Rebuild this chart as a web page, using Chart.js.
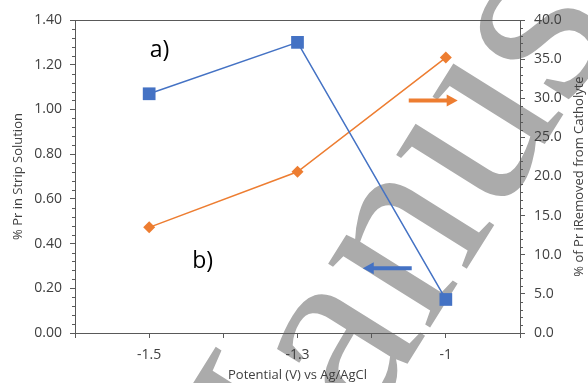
<!DOCTYPE html>
<html>
<head>
<meta charset="utf-8">
<script src="https://cdn.jsdelivr.net/npm/chart.js@4.4.1/dist/chart.umd.min.js"></script>
<style>
  html, body { margin: 0; padding: 0; background: #fff; }
  #wrap { width: 588px; height: 383px; }
</style>
</head>
<body>
<div id="wrap"><canvas id="potentialChart"></canvas></div>
<script>
// data
const potentials = ['-1.5', '-1.3', '-1'];
const prStrip = [1.07, 1.30, 0.15];      // left axis, blue squares
const prRemoved = [13.5, 20.6, 35.2];    // right axis, orange diamonds
const leftTicks = [0, 0.2, 0.4, 0.6, 0.8, 1.0, 1.2, 1.4];
const rightTicks = [0, 5, 10, 15, 20, 25, 30, 35, 40];

const blue = '#4472C4';
const orange = '#ED7D31';
const axisGrey = '#595959';

Chart.defaults.font.family = '"Open Sans", sans-serif';
Chart.defaults.font.size = 13;
Chart.defaults.color = '#404040';

// minor ticks, plot frame, right title, labels and arrows
const decorations = {
  id: 'decorations',
  beforeDraw(chart) {
    const ctx = chart.ctx;
    // faint "Manuscript" watermark behind everything
    const size = 262;
    ctx.save();
    ctx.fillStyle = '#ababab';
    ctx.font = size + 'px "Liberation Serif"';
    ctx.translate(345, 350);
    ctx.rotate(-58 * Math.PI / 180);
    const pre = ctx.measureText('M').width;
    const aw = ctx.measureText('a').width;
    ctx.fillText('Manuscript', -(pre + aw / 2), 0.23 * size);
    ctx.restore();
  },
  afterDraw(chart) {
    const ctx = chart.ctx;
    const {left, right, top, bottom} = chart.chartArea;
    const x = chart.scales.x, y = chart.scales.y, y1 = chart.scales.y1;

    ctx.save();
    ctx.strokeStyle = axisGrey;
    ctx.lineWidth = 1;
    ctx.beginPath();
    ctx.moveTo(left, top + 0.5);
    ctx.lineTo(right, top + 0.5);
    // minor ticks
    for (let i = 1; i < 35; i++) {
      if (i % 5 === 0) continue;
      const py = Math.round(y.getPixelForValue(i * 0.04)) + 0.5;
      ctx.moveTo(left - 3, py);
      ctx.lineTo(left, py);
    }
    for (let i = 1; i < 40; i++) {
      if (i % 5 === 0) continue;
      const py = Math.round(y1.getPixelForValue(i)) + 0.5;
      ctx.moveTo(right, py);
      ctx.lineTo(right + 3, py);
    }
    ctx.stroke();

    // right axis title, reading bottom to top
    ctx.fillStyle = '#404040';
    ctx.font = '13px "Open Sans", sans-serif';
    ctx.textAlign = 'center';
    ctx.textBaseline = 'middle';
    ctx.translate(579, (top + bottom) / 2);
    ctx.rotate(-Math.PI / 2);
    ctx.fillText('% of Pr iRemoved from Catholyte', 0, 0);
    ctx.restore();

    // panel labels
    ctx.save();
    ctx.fillStyle = '#000';
    ctx.font = '23px "Open Sans", sans-serif';
    ctx.textAlign = 'center';
    ctx.textBaseline = 'middle';
    ctx.fillText('a)', x.getPixelForValue(0.07), y.getPixelForValue(1.266));
    ctx.fillText('b)', x.getPixelForValue(0.36), y.getPixelForValue(0.318));
    ctx.restore();

    // arrows pointing at the axis each series uses
    function arrow(x0, x1, py, color) {
      const dir = Math.sign(x1 - x0);
      ctx.save();
      ctx.strokeStyle = color;
      ctx.fillStyle = color;
      ctx.lineWidth = 4;
      ctx.beginPath();
      ctx.moveTo(x0, py);
      ctx.lineTo(x1 - dir * 9, py);
      ctx.stroke();
      ctx.beginPath();
      ctx.moveTo(x1, py);
      ctx.lineTo(x1 - dir * 11, py - 6);
      ctx.lineTo(x1 - dir * 11, py + 6);
      ctx.closePath();
      ctx.fill();
      ctx.restore();
    }
    arrow(x.getPixelForValue(1.75), x.getPixelForValue(2.08), y1.getPixelForValue(29.7), orange);
    arrow(x.getPixelForValue(1.77), x.getPixelForValue(1.44), y.getPixelForValue(0.29), blue);
  }
};

const ctx = document.getElementById('potentialChart').getContext('2d');
const potentialChart = new Chart(ctx, {
  type: 'line',
  data: {
    datasets: [{
      label: '% Pr in Strip Solution',
      data: prStrip.map((v, i) => ({x: i, y: v})),
      yAxisID: 'y',
      borderColor: blue,
      backgroundColor: blue,
      borderWidth: 1.5,
      pointStyle: 'rect',
      pointRadius: 9,
      pointBorderWidth: 0,
      pointHoverRadius: 9
    }, {
      label: '% of Pr Removed from Catholyte',
      data: prRemoved.map((v, i) => ({x: i, y: v})),
      yAxisID: 'y1',
      borderColor: orange,
      backgroundColor: orange,
      borderWidth: 1.5,
      pointStyle: 'rectRot',
      pointRadius: 6,
      pointBorderWidth: 0,
      pointHoverRadius: 6
    }]
  },
  options: {
    responsive: true,
    maintainAspectRatio: false,
    animation: false,
    layout: { padding: { top: 20, left: 0, right: 0, bottom: 0 } },
    plugins: {
      legend: { display: false },
      tooltip: { enabled: false }
    },
    scales: {
      x: {
        type: 'linear',
        min: -0.5,
        max: 2.5,
        afterFit: s => { s.height = 50; },
        border: { color: axisGrey, width: 1 },
        grid: { drawOnChartArea: false, tickLength: 5, color: axisGrey },
        ticks: {
          stepSize: 0.5,
          autoSkip: false,
          maxRotation: 0,
          padding: 9,
          font: { size: 14 },
          callback: v => Number.isInteger(v) ? potentials[v] : ''
        },
        title: { display: true, text: 'Potential (V) vs Ag/AgCl', padding: 0 }
      },
      y: {
        position: 'left',
        min: 0,
        max: 1.4,
        afterFit: s => { s.width = 75; },
        afterBuildTicks: s => { s.ticks = leftTicks.map(v => ({value: v})); },
        border: { color: axisGrey, width: 1 },
        grid: { drawOnChartArea: false, tickLength: 5, color: axisGrey },
        ticks: { padding: 8, font: { size: 14 }, callback: v => v.toFixed(2) },
        title: { display: true, text: '% Pr in Strip Solution', padding: { top: 10, bottom: 0 } }
      },
      y1: {
        position: 'right',
        min: 0,
        max: 40,
        afterFit: s => { s.width = 68; },
        afterBuildTicks: s => { s.ticks = rightTicks.map(v => ({value: v})); },
        border: { color: axisGrey, width: 1 },
        grid: { drawOnChartArea: false, tickLength: 5, color: axisGrey },
        ticks: { padding: 9, font: { size: 14 }, callback: v => v.toFixed(1) }
      }
    }
  },
  plugins: [decorations]
});
</script>
</body>
</html>
